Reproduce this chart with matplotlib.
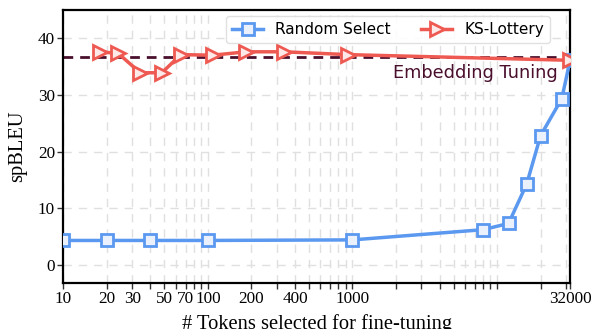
import matplotlib
matplotlib.use("Agg")
import matplotlib.pyplot as plt
import numpy as np

# Data
rand_x = [10, 20, 40, 100, 1000, 8000, 12000, 16000, 20000, 28000, 32000]
rand_y = [4.3, 4.3, 4.3, 4.3, 4.4, 6.2, 7.3, 14.2, 22.8, 29.3, 36.1]
ks_x = [18, 24, 34, 48, 65, 108, 184, 336, 930, 32000]
ks_y = [37.6, 37.3, 33.9, 33.9, 37.1, 37.0, 37.6, 37.6, 37.1, 36.1]
embed_y = 36.6
xtick_labels = {10: "10", 20: "20", 30: "30", 50: "50", 70: "70", 100: "100",
                200: "200", 400: "400", 1000: "1000", 32000: "32000"}
yticks = [0, 10, 20, 30, 40]

fig = plt.figure(figsize=(5.92, 3.29), dpi=100)
ax = fig.add_axes([0.107, 0.140, 0.856, 0.830])

serif = ["Liberation Serif", "DejaVu Serif"]

ax.axhline(embed_y, color="#4a0f2d", lw=2, ls=(0, (3.5, 2.5)), zorder=2)
ax.text(0.976, (embed_y - 1.1 - (-3.2)) / (45 - (-3.2)), "Embedding Tuning",
        transform=ax.transAxes, ha="right", va="top", color="#4a0f2d",
        fontsize=12.8, family="DejaVu Sans", zorder=3)

ax.plot(rand_x, rand_y, color="#5b98f0", lw=2.5, marker="s", markersize=8.5,
        markerfacecolor="#eaf1fd", markeredgecolor="#5b98f0", markeredgewidth=2,
        label="Random Select", zorder=4)
ax.plot(ks_x, ks_y, color="#ee5a52", lw=2.5, marker=">", markersize=10,
        markerfacecolor="#fde9e8", markeredgecolor="#ee5a52", markeredgewidth=2,
        label="KS-Lottery", zorder=4)

ax.set_xscale("log")
ax.set_xlim(10, 32000)
ax.set_ylim(-3.2, 45)

ticks = []
for d in [10, 100, 1000, 10000]:
    for m in range(1, 10):
        v = d * m
        if v <= 32000:
            ticks.append(v)
ticks.append(32000)
ticks = sorted(set(ticks))
ax.set_xticks(ticks)
ax.set_xticklabels([xtick_labels.get(t, "") for t in ticks])
ax.xaxis.set_minor_locator(matplotlib.ticker.NullLocator())
ax.set_yticks(yticks)

for lab in ax.get_xticklabels() + ax.get_yticklabels():
    lab.set_family(serif)
    lab.set_fontsize(12.3)
ax.tick_params(axis="both", length=4, width=1, color="#333333", pad=2)

ax.grid(True, which="major", axis="both", color="#e0e0e0", lw=1, ls=(0, (6, 5)))
ax.set_axisbelow(True)

for s in ax.spines.values():
    s.set_color("black")
    s.set_linewidth(1.6)

ax.set_xlabel("# Tokens selected for fine-tuning", family=serif, fontsize=14.8, labelpad=5)
ax.set_ylabel("spBLEU", family=serif, fontsize=14.8, labelpad=8)

leg = ax.legend(loc="upper right", bbox_to_anchor=(0.9605, 0.978), borderaxespad=0,
                ncol=2, frameon=True, prop={"family": "DejaVu Sans", "size": 11},
                handlelength=2.0, columnspacing=2.0, fancybox=True)
leg.get_frame().set_edgecolor("#dddddd")
leg.get_frame().set_alpha(0.9)

fig.savefig("out.png", dpi=100)
